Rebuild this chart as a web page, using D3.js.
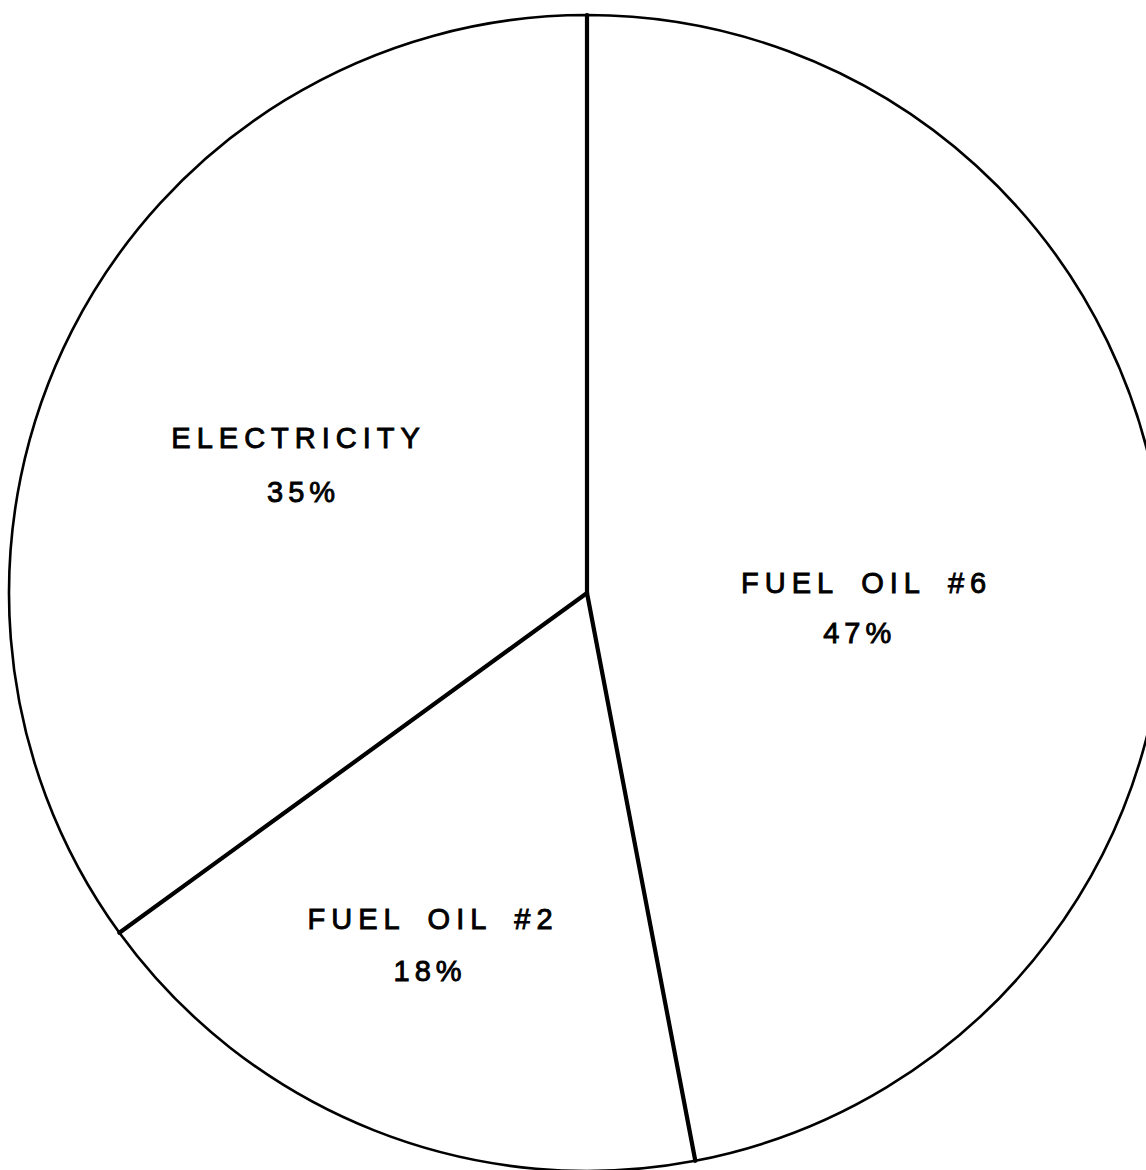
<!DOCTYPE html>
<html>
<head>
<meta charset="utf-8">
<script src="https://cdn.jsdelivr.net/npm/d3@7"></script>
<style>
  body { margin: 0; background: #fff; }
  svg { display: block; }
  .lbl { font-family: "Liberation Sans", Arial, sans-serif; font-size: 29px; fill: #000; stroke: #000; stroke-width: 0.9px; }
</style>
</head>
<body>
<div id="chart"></div>
<script>
// Energy use shares (percent), clockwise from 12 o'clock
const categories = ["FUEL OIL #6", "FUEL OIL #2", "ELECTRICITY"];
const shares = [47, 18, 35];
const shareLabels = ["47%", "18%", "35%"];

const W = 1146, H = 1170;
const cx = 587, cy = 593, r = 578;

const svg = d3.select("#chart").append("svg")
    .attr("width", W).attr("height", H);

const g = svg.append("g").attr("transform", `translate(${cx},${cy})`);

const data = categories.map((c, i) => ({ name: c, value: shares[i], label: shareLabels[i] }));
const pie = d3.pie().value(d => d.value).sort(null);
const arcs = pie(data);
const arc = d3.arc().innerRadius(0).outerRadius(r);

// slices (outline of the circle)
g.selectAll("path.slice").data(arcs).enter().append("path")
    .attr("class", "slice")
    .attr("d", arc)
    .attr("fill", "#fff")
    .attr("stroke", "#000")
    .attr("stroke-width", 2.6);

// heavier radial dividers
g.selectAll("line.div").data(arcs).enter().append("line")
    .attr("class", "div")
    .attr("x1", 0).attr("y1", 0)
    .attr("x2", d => d3.pointRadial(d.startAngle, r)[0])
    .attr("y2", d => d3.pointRadial(d.startAngle, r)[1])
    .attr("stroke", "#000")
    .attr("stroke-width", 4.2)
    .attr("stroke-linecap", "round");

// label placement: fraction of radius along mid angle, then nudges
const labelRadius = [0.486, 0.625, 0.56];
const labelOffsets = [[0, 26], [-21, 0], [0, 2]];
const pctOffsets = [[-7, 50], [-3, 52], [5, 54]];

const lab = g.selectAll("g.lab").data(arcs).enter().append("g")
    .attr("class", "lab")
    .attr("transform", (d, i) => {
        const mid = (d.startAngle + d.endAngle) / 2;
        const p = d3.pointRadial(mid, r * labelRadius[i]);
        return `translate(${p[0] + labelOffsets[i][0]},${p[1] + labelOffsets[i][1]})`;
    });

lab.append("text").attr("class", "lbl")
    .attr("text-anchor", "middle")
    .style("letter-spacing", "6px")
    .style("word-spacing", "9px")
    .attr("y", 0)
    .text(d => d.data.name);

lab.append("text").attr("class", "lbl")
    .attr("text-anchor", "middle")
    .style("letter-spacing", "5px")
    .attr("x", (d, i) => pctOffsets[i][0])
    .attr("y", (d, i) => pctOffsets[i][1])
    .text(d => d.data.label);
</script>
</body>
</html>
